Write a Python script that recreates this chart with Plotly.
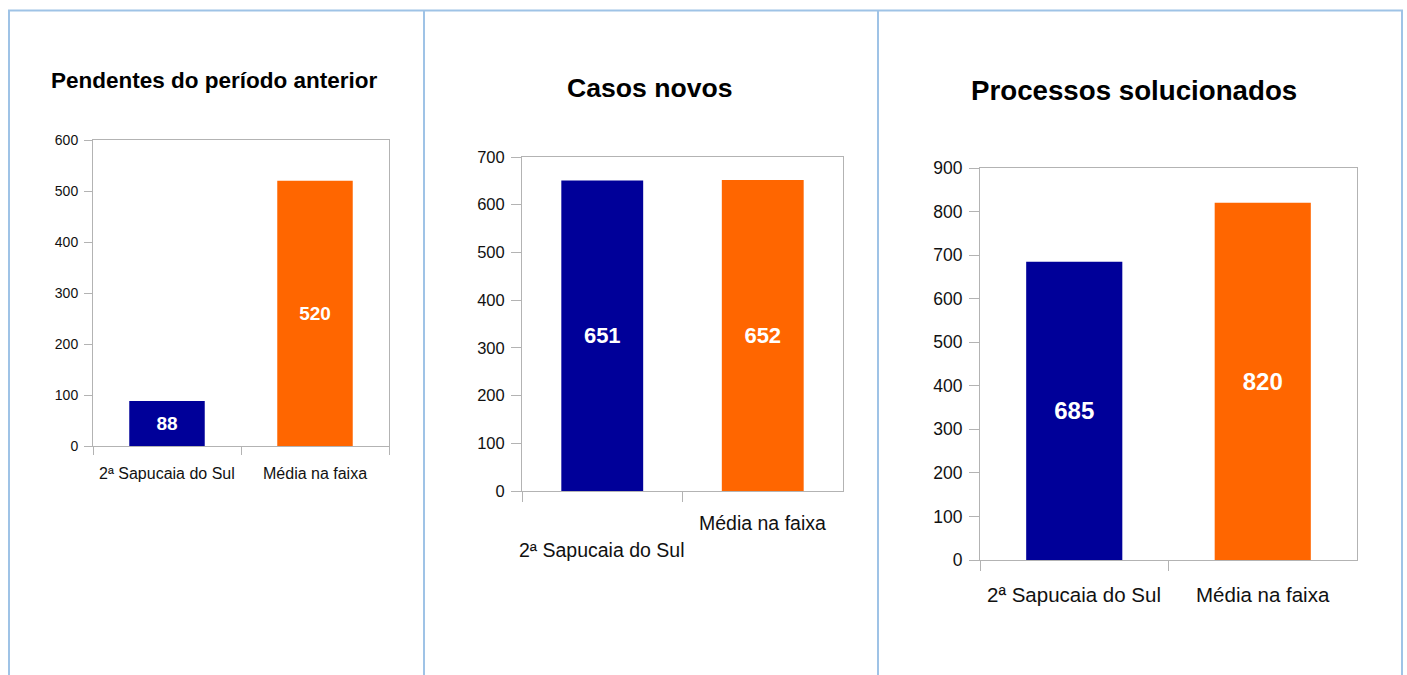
import plotly.graph_objects as go

# ---- data ----
categories = ["2ª Sapucaia do Sul", "Média na faixa"]
pendentes = [88, 520]
casos_novos = [651, 652]
solucionados = [685, 820]
titles = ["Pendentes do período anterior", "Casos novos", "Processos solucionados"]
y_max = [600, 700, 900]
bar_colors = ["#000099", "#ff6600"]

W, H = 1407, 686
TOP = 9
PH = H - 20
FONT = "Liberation Sans"
AXIS_GRAY = "#b3b3b3"
BORDER = "#9fc3e6"


def px(x):
    return x / W


def py(y):
    return 1 - (y - TOP) / PH


panels = [
    dict(x0=93, x1=389, ytop=139, ybot=445, tick=14, ticklen=8, lab=16, val=19,
         title=(214, 78, 22.5), labels_y=[472, 472]),
    dict(x0=522, x1=843, ytop=156, ybot=490, tick=16.5, ticklen=10, lab=19.5, val=22,
         title=(650, 85, 26.6), labels_y=[548, 521]),
    dict(x0=980, x1=1357, ytop=167, ybot=559, tick=17.5, ticklen=10, lab=20.5, val=24,
         title=(1134, 88, 27.7), labels_y=[592, 592]),
]
series = [pendentes, casos_novos, solucionados]

fig = go.Figure()
annotations = []
for i, (p, vals) in enumerate(zip(panels, series)):
    n = "" if i == 0 else str(i + 1)
    fig.add_trace(go.Bar(
        x=categories, y=vals, xaxis="x" + n, yaxis="y" + n,
        marker=dict(color=bar_colors, line=dict(width=0)),
        width=0.51,
        text=[str(v) for v in vals], textposition="inside", insidetextanchor="middle",
        textangle=0, constraintext="none",
        textfont=dict(family=FONT, size=p["val"], color="white", weight="bold"),
        showlegend=False, hoverinfo="skip",
    ))
    fig.layout["xaxis" + n] = dict(
        domain=[px(p["x0"]), px(p["x1"])], anchor="y" + n,
        type="category", range=[-0.5, 1.5],
        showline=True, linecolor=AXIS_GRAY, linewidth=1, mirror=True,
        ticks="outside", tickson="boundaries", ticklen=p["ticklen"], tickcolor=AXIS_GRAY,
        showticklabels=False, showgrid=False, zeroline=False, fixedrange=True,
    )
    fig.layout["yaxis" + n] = dict(
        domain=[py(p["ybot"]), py(p["ytop"])], anchor="x" + n,
        range=[0, y_max[i]], dtick=100, tick0=0,
        showline=True, linecolor=AXIS_GRAY, linewidth=1, mirror=True,
        ticks="outside", ticklen=p["ticklen"], tickcolor=AXIS_GRAY,
        ticklabelstandoff=3,
        tickfont=dict(family=FONT, size=p["tick"], color="#111111"),
        showgrid=False, zeroline=False, fixedrange=True,
    )
    tx, ty, ts = p["title"]
    annotations.append(dict(
        text=titles[i], xref="paper", yref="paper", x=px(tx), y=py(ty + 2),
        xanchor="center", yanchor="middle", showarrow=False,
        font=dict(family=FONT, size=ts, color="black", weight="bold"),
    ))
    for c, ly in zip(categories, p["labels_y"]):
        annotations.append(dict(
            text=c, xref="x" + n, yref="paper", x=c, y=py(ly + 1),
            xanchor="center", yanchor="middle", showarrow=False,
            font=dict(family=FONT, size=p["lab"], color="#111111"),
        ))

shapes = [
    dict(type="line", xref="paper", yref="paper", x0=px(8), x1=px(1403), y0=py(9.5), y1=py(9.5),
         line=dict(color=BORDER, width=2)),
]
for xv in [9, 424, 878, 1402]:
    shapes.append(dict(type="line", xref="paper", yref="paper", x0=px(xv), x1=px(xv),
                       y0=py(9), y1=py(700), line=dict(color=BORDER, width=2)))

fig.update_layout(
    width=W, height=H, autosize=False,
    margin=dict(l=0, r=0, t=0, b=0),
    paper_bgcolor="white", plot_bgcolor="white",
    annotations=annotations, shapes=shapes,
    font=dict(family=FONT),
)

fig.write_html("out.html", config={"displayModeBar": False})
